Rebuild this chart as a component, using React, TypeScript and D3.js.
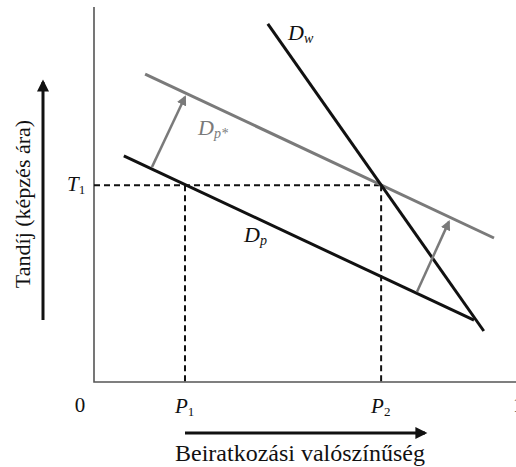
import React from 'react';
import * as d3 from 'd3';

// demand curves, in unit coordinates (x: probability, y: tuition)
const dpLine = [[0.07, 0.603], [0.892, 0.165]];
const dpStarLine = [[0.12, 0.821], [0.939, 0.384]];
const dwLine = [[0.408, 0.955], [0.915, 0.136]];
const shiftArrows = [
  [[0.136, 0.573], [0.2136, 0.76]],
  [[0.758, 0.24], [0.833, 0.427]],
];
const pTicks = [{ label: 'P', sub: '1', value: 0.2136 }, { label: 'P', sub: '2', value: 0.674 }];
const tTick = { label: 'T', sub: '1', value: 0.525 };
const axisEnds = ['0', '1'];

const W = 516;
const H = 467;
const serif = { fontFamily: 'Liberation Serif' };

const App = () => {
  const x = d3.scaleLinear().domain([0, 1]).range([94, 520]);
  const y = d3.scaleLinear().domain([0, 1]).range([382, 7]);
  const line = d3.line<number[]>().x(d => x(d[0])).y(d => y(d[1]));

  const p1 = pTicks[0].value;
  const p2 = pTicks[1].value;
  const t1 = tTick.value;

  return (
    <svg width={W} height={H} style={{ position: 'absolute', left: 0, top: 0 }}>
      <defs>
        <marker id="grayHead" viewBox="0 0 10 10" refX="8" refY="5" markerWidth="4" markerHeight="4" orient="auto" markerUnits="strokeWidth">
          <path d="M0,0 L10,5 L0,10 z" fill="#7a7a7a" />
        </marker>
        <marker id="blackHead" viewBox="0 0 10 10" refX="8" refY="5" markerWidth="4.5" markerHeight="4" orient="auto" markerUnits="strokeWidth">
          <path d="M0,0 L10,5 L0,10 z" fill="#111" />
        </marker>
      </defs>
      <rect width={W} height={H} fill="#fff" />

      {/* axes */}
      <path d={`M${x(0)},${y(1)} L${x(0)},${y(0)} L${W},${y(0)}`} fill="none" stroke="#555" strokeWidth={1.6} />

      {/* dashed guides */}
      <g stroke="#111" strokeWidth={2} strokeDasharray="6,4" fill="none">
        <line x1={x(0)} y1={y(t1)} x2={x(p2)} y2={y(t1)} />
        <line x1={x(p1)} y1={y(t1)} x2={x(p1)} y2={y(0)} />
        <line x1={x(p2)} y1={y(t1)} x2={x(p2)} y2={y(0)} />
      </g>

      {/* curves */}
      <path d={line(dpStarLine) || ''} stroke="#7a7a7a" strokeWidth={3} fill="none" />
      <path d={line(dpLine) || ''} stroke="#111" strokeWidth={3} fill="none" />
      <path d={line(dwLine) || ''} stroke="#111" strokeWidth={3} fill="none" />
      {shiftArrows.map((a, i) => (
        <path key={i} d={line(a) || ''} stroke="#7a7a7a" strokeWidth={2.5} fill="none" markerEnd="url(#grayHead)" />
      ))}

      {/* curve labels */}
      <g style={serif} fontStyle="italic" fontSize={22}>
        <text x={288} y={40} fill="#111">D<tspan fontSize={14} dy={3}>w</tspan></text>
        <text x={198} y={135} fill="#7a7a7a">D<tspan fontSize={14} dy={3}>p*</tspan></text>
        <text x={244} y={242} fill="#111">D<tspan fontSize={14} dy={3}>p</tspan></text>
      </g>

      {/* tick labels */}
      <g style={serif} fontSize={21} fill="#111">
        <text x={x(0) - 14} y={412} textAnchor="middle">{axisEnds[0]}</text>
        <text x={513} y={412}>{axisEnds[1]}</text>
        {pTicks.map(t => (
          <text key={t.sub} x={x(t.value) - 10} y={413}>
            <tspan fontStyle="italic">{t.label}</tspan>
            <tspan fontSize={13} dy={3}>{t.sub}</tspan>
          </text>
        ))}
        <text x={67} y={y(t1) + 6}>
          <tspan fontStyle="italic">{tTick.label}</tspan>
          <tspan fontSize={13} dy={3}>{tTick.sub}</tspan>
        </text>
      </g>

      {/* axis arrows and titles */}
      <line x1={43} y1={320} x2={43} y2={82} stroke="#111" strokeWidth={3} markerEnd="url(#blackHead)" />
      <line x1={185} y1={433} x2={425} y2={433} stroke="#111" strokeWidth={3} markerEnd="url(#blackHead)" />
      <text x={175} y={461} style={serif} fontSize={24} fill="#111">Beiratkozási valószínűség</text>
      <text transform="translate(30,204) rotate(-90)" textAnchor="middle" style={serif} fontSize={22} fill="#111">Tandíj (képzés ára)</text>
    </svg>
  );
};

export default App;
